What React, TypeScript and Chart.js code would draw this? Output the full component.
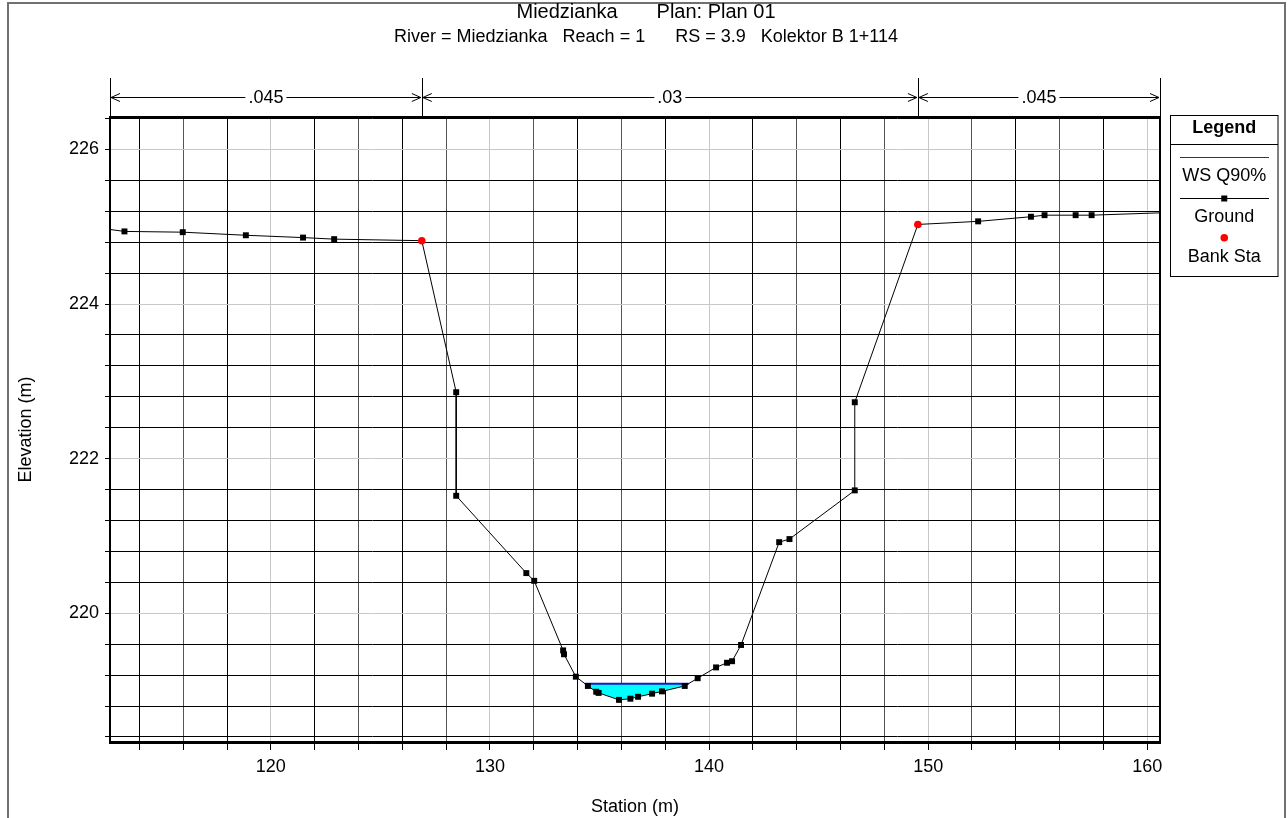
import React, { useEffect, useRef } from "react";
import { Chart, registerables } from "chart.js";

Chart.register(...registerables);

// ---- data ----
const groundStations = [112.66, 113.32, 115.98, 118.86, 121.47, 122.89, 126.89, 128.46, 128.46, 131.66, 132.02, 133.34, 133.38, 133.92, 134.47, 134.85, 134.96, 135.89, 136.41, 136.76, 137.4, 137.85, 138.89, 139.48, 140.32, 140.82, 141.05, 141.46, 143.2, 143.67, 146.65, 146.65, 149.53, 152.28, 154.69, 155.31, 156.73, 157.46, 160.58];
const groundElevations = [224.965, 224.94, 224.93, 224.89, 224.86, 224.84, 224.82, 222.86, 221.52, 220.52, 220.42, 219.52, 219.47, 219.18, 219.06, 218.985, 218.97, 218.88, 218.895, 218.92, 218.96, 218.99, 219.06, 219.16, 219.3, 219.36, 219.38, 219.59, 220.92, 220.96, 221.59, 222.73, 225.03, 225.07, 225.13, 225.15, 225.15, 225.15, 225.18];
const bankStations = [126.89, 149.53];
const bankElevations = [224.82, 225.03];
const wsElevation = 219.09;
const manningValues = [".045", ".03", ".045"];
const xTickLabels = [120, 130, 140, 150, 160];
const yTickLabels = [220, 222, 224, 226];
const yRange = [218.335, 226.42];
const titleText = "Miedzianka       Plan: Plan 01";
const subtitleText = "River = Miedzianka   Reach = 1      RS = 3.9   Kolektor B 1+114";
const legendTitle = "Legend";
const seriesNames = ["WS Q90%", "Ground", "Bank Sta"];

const FONT = 'Arial, "Liberation Sans", sans-serif';

function isMultiple(v: number, step: number) {
  const r = v / step;
  return Math.abs(r - Math.round(r)) < 1e-6;
}

// water surface extent: where ground crosses WS elevation around the thalweg
function wsCrossings(): [number, number] {
  let iMin = 0;
  groundElevations.forEach((e, i) => {
    if (e < groundElevations[iMin]) iMin = i;
  });
  let xl = groundStations[iMin];
  for (let i = iMin; i > 0; i--) {
    const e0 = groundElevations[i - 1], e1 = groundElevations[i];
    if (e0 >= wsElevation && e1 <= wsElevation) {
      const t = (e0 - wsElevation) / (e0 - e1);
      xl = groundStations[i - 1] + t * (groundStations[i] - groundStations[i - 1]);
      break;
    }
  }
  let xr = groundStations[iMin];
  for (let i = iMin; i < groundStations.length - 1; i++) {
    const e0 = groundElevations[i], e1 = groundElevations[i + 1];
    if (e0 <= wsElevation && e1 >= wsElevation) {
      const t = (wsElevation - e0) / (e1 - e0);
      xr = groundStations[i] + t * (groundStations[i + 1] - groundStations[i]);
      break;
    }
  }
  return [xl, xr];
}

const decorPlugin = {
  id: "decor",
  beforeDatasetsDraw(chart: any) {
    const { ctx, chartArea, scales } = chart;
    const xs = scales.x, ys = scales.y;
    const [xl, xr] = wsCrossings();
    ctx.save();
    ctx.beginPath();
    ctx.rect(chartArea.left, chartArea.top, chartArea.right - chartArea.left, chartArea.bottom - chartArea.top);
    ctx.clip();
    ctx.beginPath();
    ctx.moveTo(xs.getPixelForValue(xl), ys.getPixelForValue(wsElevation));
    ctx.lineTo(xs.getPixelForValue(xr), ys.getPixelForValue(wsElevation));
    for (let i = groundStations.length - 1; i >= 0; i--) {
      const s = groundStations[i];
      if (s > xl && s < xr) ctx.lineTo(xs.getPixelForValue(s), ys.getPixelForValue(groundElevations[i]));
    }
    ctx.closePath();
    ctx.fillStyle = "#00ffff";
    ctx.fill();
    ctx.restore();
  },
  afterDatasetsDraw(chart: any) {
    const { ctx, chartArea } = chart;
    const { left, right, top, bottom } = chartArea;
    ctx.save();
    ctx.strokeStyle = "#000";
    ctx.lineWidth = 2;
    ctx.strokeRect(left, top, right - left, bottom - top);
    ctx.lineWidth = 3;
    ctx.beginPath();
    ctx.moveTo(left - 1, bottom + 0.5);
    ctx.lineTo(right + 1, bottom + 0.5);
    ctx.stroke();
    ctx.restore();
  },
  afterDraw(chart: any) {
    const { ctx, chartArea, scales } = chart;
    const xs = scales.x;
    ctx.save();
    // outer frame
    ctx.strokeStyle = "#707070";
    ctx.lineWidth = 2;
    ctx.strokeRect(8, 3, 1277, 900);

    // titles
    ctx.fillStyle = "#000";
    ctx.textAlign = "center";
    ctx.textBaseline = "middle";
    ctx.font = `20px ${FONT}`;
    ctx.fillText(titleText, 646, 12);
    ctx.font = `18px ${FONT}`;
    ctx.fillText(subtitleText, 646, 37);

    // Manning's n bar
    const arrowY = 97;
    const bounds = [xs.min, bankStations[0], bankStations[1], xs.max].map((v: number) => xs.getPixelForValue(v));
    ctx.strokeStyle = "#000";
    ctx.lineWidth = 1;
    bounds.forEach((bx: number) => {
      const px = Math.round(bx) + 0.5;
      ctx.beginPath();
      ctx.moveTo(px, 78);
      ctx.lineTo(px, chartArea.top);
      ctx.stroke();
    });
    ctx.font = `18px ${FONT}`;
    for (let k = 0; k < 3; k++) {
      const a = bounds[k] + 1, b = bounds[k + 1] - 1;
      const y = arrowY + 0.5;
      ctx.beginPath();
      ctx.moveTo(a, y);
      ctx.lineTo(b, y);
      ctx.moveTo(a + 9, y - 4);
      ctx.lineTo(a, y);
      ctx.lineTo(a + 9, y + 4);
      ctx.moveTo(b - 9, y - 4);
      ctx.lineTo(b, y);
      ctx.lineTo(b - 9, y + 4);
      ctx.stroke();
      const label = manningValues[k];
      const cx = (a + b) / 2;
      const w = ctx.measureText(label).width;
      ctx.fillStyle = "#fff";
      ctx.fillRect(cx - w / 2 - 3, arrowY - 10, w + 6, 20);
      ctx.fillStyle = "#000";
      ctx.fillText(label, cx, arrowY + 1);
    }

    // legend box
    const lx = 1170.5, ly = 115.5, lw = 107.5, lh = 161;
    const lc = lx + lw / 2;
    ctx.strokeStyle = "#000";
    ctx.lineWidth = 1;
    ctx.strokeRect(lx, ly, lw, lh);
    ctx.beginPath();
    ctx.moveTo(lx, 144.5);
    ctx.lineTo(lx + lw, 144.5);
    ctx.stroke();
    ctx.font = `bold 18px ${FONT}`;
    ctx.fillStyle = "#000";
    ctx.fillText(legendTitle, lc, 128);
    ctx.font = `18px ${FONT}`;
    // WS
    ctx.strokeStyle = "#2020e0";
    ctx.beginPath();
    ctx.moveTo(1180, 157.5);
    ctx.lineTo(1269, 157.5);
    ctx.stroke();
    ctx.fillText(seriesNames[0], lc, 176);
    // Ground
    ctx.strokeStyle = "#000";
    ctx.beginPath();
    ctx.moveTo(1180, 198.5);
    ctx.lineTo(1269, 198.5);
    ctx.stroke();
    ctx.fillRect(lc - 3, 195.5, 6, 6);
    ctx.fillText(seriesNames[1], lc, 217);
    // Bank
    ctx.fillStyle = "#ff0000";
    ctx.beginPath();
    ctx.arc(lc, 237.7, 3.8, 0, Math.PI * 2);
    ctx.fill();
    ctx.fillStyle = "#000";
    ctx.fillText(seriesNames[2], lc, 257);
    ctx.restore();
  },
};

export default function App() {
  const ref = useRef<HTMLCanvasElement>(null);
  useEffect(() => {
    const canvas = ref.current;
    if (!canvas) return;
    const [xl, xr] = wsCrossings();
    const nG = groundStations.length;
    const chart = new Chart(canvas, {
      type: "line",
      data: {
        datasets: [
          {
            label: seriesNames[2],
            data: bankStations.map((s, i) => ({ x: s, y: bankElevations[i] })),
            showLine: false,
            pointStyle: "circle",
            pointRadius: 3.8,
            pointBackgroundColor: "#ff0000",
            pointBorderWidth: 0,
            order: 0,
          },
          {
            label: seriesNames[1],
            data: groundStations.map((s, i) => ({ x: s, y: groundElevations[i] })),
            borderColor: "#000",
            borderWidth: 1,
            tension: 0,
            pointStyle: "rect",
            pointRadius: (c: any) => {
              const i = c.dataIndex;
              if (i === 0 || i === nG - 1) return 0;
              if (bankStations.includes(groundStations[i])) return 0;
              return 4.2;
            },
            pointBackgroundColor: "#000",
            pointBorderWidth: 0,
            order: 1,
          },
          {
            label: seriesNames[0],
            data: [
              { x: xl, y: wsElevation },
              { x: xr, y: wsElevation },
            ],
            borderColor: "#1818d0",
            borderWidth: 2,
            pointRadius: 0,
            order: 2,
          },
        ],
      },
      options: {
        animation: false,
        responsive: false,
        devicePixelRatio: 1,
        events: [],
        layout: { padding: { left: 0, top: 117, right: 128, bottom: 0 } },
        plugins: {
          legend: { display: false },
          title: { display: false },
          tooltip: { enabled: false },
        },
        scales: {
          x: {
            type: "linear",
            min: groundStations[0],
            max: groundStations[nG - 1],
            afterFit: (s: any) => {
              s.height = 76;
            },
            afterBuildTicks: (s: any) => {
              s.ticks = s.ticks.filter((t: any) => isMultiple(t.value, 2) && t.value > s.min && t.value < s.max);
            },
            ticks: {
              stepSize: 2,
              includeBounds: false,
              autoSkip: false,
              maxRotation: 0,
              minRotation: 0,
              padding: 6,
              color: "#000",
              font: { family: FONT, size: 18 },
              callback: (v: any) => (xTickLabels.includes(Math.round(Number(v) * 1000) / 1000) ? String(v) : ""),
            },
            grid: {
              color: (c: any) => {
                const v = c.tick ? c.tick.value : 0;
                if (isMultiple(v, 10)) return "#c8c8c8";
                if (isMultiple(v, 4)) return "#555";
                return "#000";
              },
              lineWidth: 1,
              tickLength: 8,
              tickColor: "#000",
            },
            border: { display: false },
            title: {
              display: true,
              text: "Station (m)",
              color: "#000",
              font: { family: FONT, size: 18 },
              padding: { top: 0, bottom: 0 },
            },
          },
          y: {
            type: "linear",
            min: yRange[0],
            max: yRange[1],
            afterFit: (s: any) => {
              s.width = 110;
            },
            afterBuildTicks: (s: any) => {
              s.ticks = s.ticks.filter((t: any) => isMultiple(t.value, 0.4) && t.value > s.min && t.value < s.max);
            },
            ticks: {
              stepSize: 0.4,
              includeBounds: false,
              autoSkip: false,
              padding: 6,
              color: "#000",
              font: { family: FONT, size: 18 },
              callback: (v: any) => (yTickLabels.includes(Math.round(Number(v) * 1000) / 1000) ? String(Math.round(Number(v))) : ""),
            },
            grid: {
              color: (c: any) => {
                const v = c.tick ? c.tick.value : 0;
                return isMultiple(v, 2) ? "#c8c8c8" : "#000";
              },
              lineWidth: 1,
              tickLength: 5,
              tickColor: "#000",
            },
            border: { display: false },
            title: {
              display: true,
              text: "Elevation (m)",
              color: "#000",
              font: { family: FONT, size: 18 },
              padding: { top: 15, bottom: 0 },
            },
          },
        },
      },
      plugins: [decorPlugin],
    } as any);
    return () => chart.destroy();
  }, []);
  return (
    <div style={{ position: "absolute", left: 0, top: 0, width: 1288, height: 818, background: "#fff" }}>
      <canvas ref={ref} width={1288} height={818} style={{ display: "block", width: 1288, height: 818 }} />
    </div>
  );
}
